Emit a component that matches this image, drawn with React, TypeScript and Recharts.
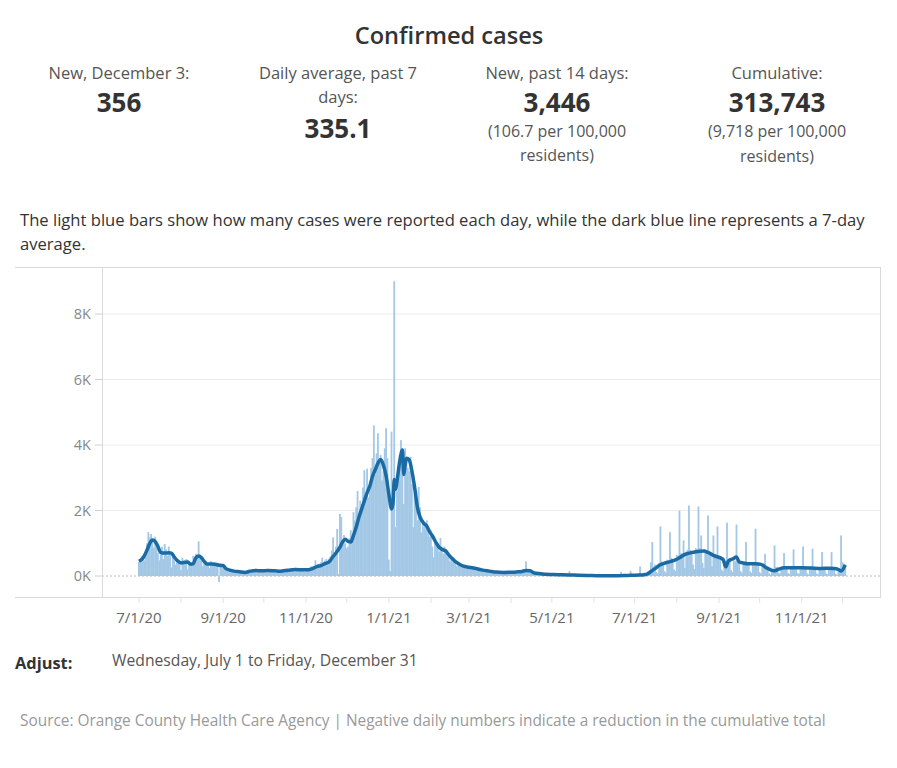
import React from 'react';
import {
  ComposedChart, Bar, Line, XAxis, YAxis, CartesianGrid, ReferenceLine,
} from 'recharts';

// daily new cases, one row per week, day 0 = Wed 7/1/20
const dailyCases = [
  430, 520, 610, 560, 480, 700, 1000,
  1340, 1180, 1280, 1050, 860, 1200, 950,
  700, 480, 650, 900, 520, 980, 820,
  620, 900, 720, 260, 640, 480, 350,
  510, 420, 350, 180, 560, 430, 470,
  520, 200, 390, 300, 410, 620, 560,
  680, 540, 1060, 610, 470, 300, 380,
  450, 400, 330, 240, 460, 380, 420,
  380, 320, 410, -180, 390, 350, 300,
  280, 200, 160, 120, 210, 180, 140,
  150, 110, 90, 160, 130, 170, 120,
  100, 140, 80, 150, 190, 160, 140,
  180, 200, 130, 110, 210, 170, 190,
  150, 180, 120, 100, 200, 190, 170,
  160, 150, 120, 110, 190, 170, 150,
  180, 210, 150, 120, 230, 200, 190,
  220, 240, 170, 150, 250, 230, 200,
  180, 210, 160, 130, 240, 220, 230,
  260, 300, 250, 190, 480, 330, 350,
  380, 420, 560, 280, 470, 520, 450,
  530, 600, 780, 1180, 580, 900, 1440,
  60, 1900, 1800, 1100, 1250, 1000, 850,
  900, 1150, 1400, 1200, 1950, 1700, 2100,
  2600, 1800, 2300, 2200, 2700, 3230, 2500,
  3280, 2400, 2900, 3300, 3600, 4600, 3100,
  3750, 4360, 3500, 3700, 2920, 3200, 3900,
  4515, 3600, 500, 150, 4410, 2600, 9000,
  1490, 2600, 3100, 3700, 4150, 3900, 2200,
  3900, 3540, 3300, 3200, 3640, 2800, 1490,
  2500, 2200, 1700, 2720, 2100, 1330, 1690,
  1500, 1600, 1700, 1300, 1200, 1400, 900,
  570, 1150, 1000, 900, 750, 1160, 800,
  670, 900, 800, 600, 700, 450, 500,
  420, 560, 380, 300, 420, 350, 290,
  320, 250, 310, 220, 270, 290, 240,
  230, 260, 200, 170, 250, 220, 190,
  180, 200, 150, 120, 170, 160, 140,
  130, 150, 110, 90, 140, 130, 120,
  110, 130, 90, 70, 120, 110, 120,
  110, 140, 100, 80, 130, 120, 140,
  130, 160, 120, 100, 180, 450, 150,
  140, 120, 90, 60, 80, 70, 60,
  80, 60, 50, 40, 70, 60, 50,
  50, 60, 40, 30, 50, 45, 40,
  40, 50, 35, 25, 45, 40, 35,
  30, 40, 150, 20, 35, 30, 25,
  30, 40, 20, 15, 30, 25, 20,
  25, 30, 15, 10, 20, 15, 20,
  10, 60, 5, 0, 15, 10, 50,
  10, 20, 0, 5, 10, 15, 10,
  10, 20, 5, 0, 15, 130, 10,
  20, 25, 10, 5, 20, 160, 25,
  30, 35, 20, 10, 40, 290, 60,
  80, 100, 30, 20, 150, 180, 420,
  1040, 300, 350, 120, 80, 400, 1515,
  450, 420, 150, 100, 500, 480, 1340,
  560, 520, 200, 150, 650, 620, 2000,
  700, 680, 1090, 250, 750, 800, 2155,
  800, 780, 350, 220, 850, 820, 2125,
  850, 1240, 400, 250, 800, 780, 1850,
  700, 650, 300, 1240, 650, 600, 1515,
  620, 550, 200, 150, 500, 480, 1630,
  500, 520, 180, 120, 480, 450, 1575,
  420, 400, 150, 100, 420, 380, 1040,
  400, 380, 140, 100, 420, 380, 1445,
  380, 350, 120, 80, 300, 280, 680,
  260, 240, 80, 50, 220, 210, 935,
  280, 270, 100, 70, 260, 250, 700,
  280, 260, 90, 60, 250, 240, 815,
  270, 250, 90, 60, 260, 240, 905,
  260, 240, 80, 50, 250, 230, 835,
  250, 230, 80, 50, 240, 220, 730,
  240, 220, 80, 50, 230, 210, 730,
  230, 200, 70, 40, 150, 120, 1240,
  420, 380, 356,
];

// 7-day average, read at the days where the line bends
const avgDays = [
  0, 3, 6, 8, 10, 12, 14, 16, 19, 22, 24, 26, 28, 31, 34, 36, 38, 40, 42, 44, 46, 48,
  50, 53, 56, 59, 62, 64, 67, 70, 74, 78, 82, 86, 90, 95, 100, 104, 110, 115, 120, 125,
  128, 131, 134, 137, 140, 143, 145, 148, 150, 152, 154, 156, 158, 160, 162, 164, 166,
  168, 170, 172, 174, 176, 178, 180, 182, 184, 186, 187, 188, 189, 190, 192, 194, 195,
  196, 197, 199, 201, 203, 205, 207, 210, 212, 214, 216, 219, 221, 224, 226, 228, 230,
  233, 236, 239, 243, 248, 253, 258, 263, 268, 273, 278, 282, 285, 288, 291, 296, 300,
  305, 312, 320, 330, 340, 350, 360, 368, 372, 375, 378, 381, 383, 388, 394, 398, 402,
  409, 416, 419, 423, 430, 432, 434, 437, 440, 442, 445, 448, 454, 458, 462, 465, 468,
  471, 475, 481, 488, 495, 502, 508, 512, 515, 517, 520,
];
const avgValues = [
  450, 550, 800, 1000, 1100, 1050, 900, 720, 700, 710, 700, 580, 480, 400, 420, 430, 360, 380, 560, 610, 560, 450,
  370, 370, 360, 330, 320, 230, 180, 150, 130, 110, 150, 170, 160, 170, 160, 150, 180, 200, 190, 195,
  230, 290, 320, 380, 430, 600, 700, 880, 1050, 1120, 1060, 1040, 1250, 1500, 1800, 2050, 2300,
  2550, 2750, 3050, 3250, 3450, 3560, 3380, 3050, 2500, 2050, 2200, 2950, 2650, 2900, 3500, 3850, 3100,
  3400, 3600, 3550, 3200, 2700, 2100, 1800, 1600, 1520, 1350, 1230, 1000, 880, 800, 760, 650, 560,
  440, 360, 300, 270, 230, 180, 150, 120, 110, 115, 125, 140, 170, 160, 90, 70, 55,
  45, 40, 30, 20, 10, 10, 20, 30, 40, 80, 173, 260, 325, 405, 475, 560, 660,
  732, 763, 720, 630, 508, 280, 460, 520, 580, 430, 400, 376, 376, 356, 254, 190, 160,
  210, 254, 250, 254, 245, 234, 236, 234, 200, 153, 335,
];

// month starts (days since 7/1/20), labels every other month
const monthDays = [0, 31, 62, 92, 123, 153, 184, 215, 243, 274, 304, 335, 365, 396, 427, 457, 488, 518];
const monthLabels = ['7/1/20', '', '9/1/20', '', '11/1/20', '', '1/1/21', '', '3/1/21', '', '5/1/21', '', '7/1/21', '', '9/1/21', '', '11/1/21', ''];
const yTicks = [0, 2000, 4000, 6000, 8000];

const avgByDay = new Map(avgDays.map((d, i) => [d, avgValues[i]]));
const rows = dailyCases.map((c, i) => ({ day: i, cases: c, avg: avgByDay.get(i) ?? null }));

const FONT = '"Open Sans", "Noto Sans", sans-serif';
const BAR_COLOR = '#a3c8e6';

const T = ({ x, y, size = 16.5, weight = 400, color = '#555', align = 'center', children }: any) => (
  <div
    style={{
      position: 'absolute',
      left: align === 'center' ? x - 150 : x,
      top: y - 15,
      width: align === 'center' ? 300 : undefined,
      lineHeight: '30px',
      fontSize: size,
      fontWeight: weight,
      color,
      textAlign: align,
      whiteSpace: 'nowrap',
    }}
  >
    {children}
  </div>
);

const line = (left: number, top: number, width: number, height: number) => (
  <div style={{ position: 'absolute', left, top, width, height, background: '#d9d9d9' }} />
);

// daily bars are squeezed below 1.4px by recharts; widen them a bit so they touch
const DayBar = (p: any) => {
  const h = Math.abs(p.height || 0);
  if (!h) return null;
  const top = p.height < 0 ? p.y + p.height : p.y;
  return <rect x={p.x - 0.3} y={top} width={p.width + 0.6} height={h} fill={BAR_COLOR} />;
};

export default function App() {
  return (
    <div style={{ position: 'absolute', left: 0, top: 0, width: 897, height: 768, fontFamily: FONT, background: '#fff' }}>
      <T x={449} y={35} size={23.6} weight={600} color="#333">Confirmed cases</T>

      <T x={119} y={73}>New, December 3:</T>
      <T x={119} y={102} size={26} weight={700} color="#333">356</T>

      <T x={338} y={73}>Daily average, past 7</T>
      <T x={338} y={97}>days:</T>
      <T x={338} y={128} size={26} weight={700} color="#333">335.1</T>

      <T x={557} y={73}>New, past 14 days:</T>
      <T x={557} y={102} size={26} weight={700} color="#333">3,446</T>
      <T x={557} y={131} size={16}>(106.7 per 100,000</T>
      <T x={557} y={155} size={16}>residents)</T>

      <T x={777} y={73}>Cumulative:</T>
      <T x={777} y={102} size={26} weight={700} color="#333">313,743</T>
      <T x={777} y={131} size={16}>(9,718 per 100,000</T>
      <T x={777} y={156} size={16}>residents)</T>

      <T x={20} y={220} size={16.6} color="#333" align="left">
        The light blue bars show how many cases were reported each day, while the dark blue line represents a 7-day
      </T>
      <T x={20} y={244} size={16.6} color="#333" align="left">average.</T>

      <div style={{ position: 'absolute', left: 15, top: 267 }}>
        <ComposedChart width={866} height={365} data={rows} margin={{ top: 1, right: 1, bottom: 0, left: 0 }}>
          <CartesianGrid vertical={false} horizontalValues={[2000, 4000, 6000, 8000]} stroke="#ececec" />
          <XAxis
            dataKey="day"
            type="number"
            domain={[-27.2, 545.6]}
            ticks={monthDays}
            interval={0}
            tickFormatter={(v: number) => monthLabels[monthDays.indexOf(v)] ?? ''}
            height={35}
            tickSize={6}
            tickMargin={9}
            axisLine={false}
            tickLine={{ stroke: '#e2e2e2' }}
            tick={{ fill: '#666', fontSize: 15, fontFamily: FONT }}
          />
          <YAxis
            type="number"
            domain={[-640, 9406]}
            ticks={yTicks}
            width={87}
            tickFormatter={(v: number) => `${v / 1000}K`}
            axisLine={false}
            tickSize={7}
            tickMargin={4}
            tickLine={{ stroke: '#d0d0d0' }}
            tick={{ fill: '#888', fontSize: 14.5, fontFamily: FONT }}
          />
          <ReferenceLine y={0} stroke="#bdbdbd" strokeDasharray="2 2" />
          <Bar dataKey="cases" fill={BAR_COLOR} barSize={2} shape={DayBar} isAnimationActive={false} />
          <Line
            dataKey="avg"
            type="monotone"
            stroke="#1a6aa4"
            strokeWidth={3.5}
            dot={false}
            connectNulls
            isAnimationActive={false}
          />
        </ComposedChart>
      </div>

      {line(15, 267, 866, 1)}
      {line(15, 597, 866, 1)}
      {line(880, 267, 1, 331)}
      {line(102, 267, 1, 331)}

      <T x={15} y={663} size={16.4} weight={700} color="#333" align="left">Adjust:</T>
      <T x={112} y={660} size={15.7} color="#555" align="left">Wednesday, July 1 to Friday, December 31</T>
      <T x={20} y={721} size={15.4} color="#999" align="left">
        Source: Orange County Health Care Agency | Negative daily numbers indicate a reduction in the cumulative total
      </T>
    </div>
  );
}
